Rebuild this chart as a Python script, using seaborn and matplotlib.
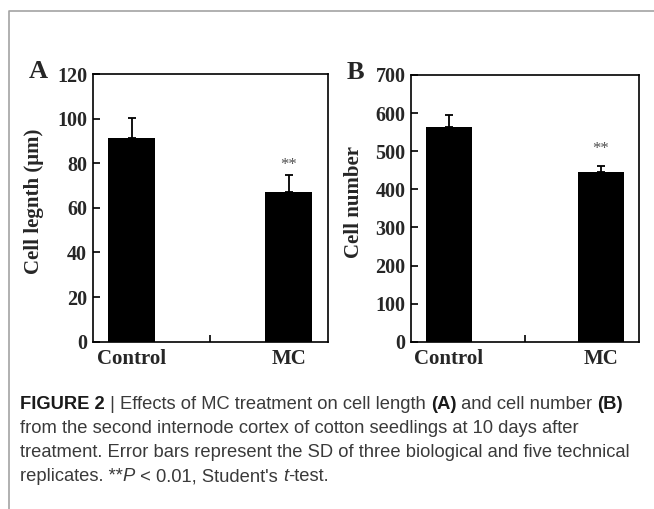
import matplotlib
matplotlib.use("Agg")
import matplotlib.pyplot as plt
import seaborn as sns
import numpy as np
from matplotlib.lines import Line2D

# ---------------- data ----------------
groups = ["Control", "MC"]
length_mean = [91.4, 67.2]
length_sd = [9.0, 7.5]
number_mean = [564, 446]
number_sd = [31, 16]
sig_marks = ["", "**"]
length_ticks = [0, 20, 40, 60, 80, 100, 120]
number_ticks = [0, 100, 200, 300, 400, 500, 600, 700]

sns.set_theme(style="white")
plt.rcParams["font.family"] = ["Liberation Serif", "DejaVu Serif"]

W, H = 654, 509
fig = plt.figure(figsize=(W / 100, H / 100), dpi=100)
fig.patch.set_facecolor("white")

serif = ["Liberation Serif", "DejaVu Serif"]
sans = ["Liberation Sans", "DejaVu Sans"]


def px_rect(left, top, right, bottom):
    return [left / W, 1 - bottom / H, (right - left) / W, (bottom - top) / H]


def panel(ax, means, sds, ticks, ylabel, sig_y):
    sns.barplot(x=groups, y=means, color="black", width=0.3, ax=ax,
                edgecolor="black", linewidth=0, saturation=1)
    ax.errorbar([0, 1], means, yerr=[[0, 0], sds], fmt="none", ecolor="black",
                elinewidth=1.3, capsize=2.6, capthick=1.3)
    ax.set_xlim(-0.25, 1.25)
    ax.set_ylim(ticks[0], ticks[-1])
    ax.set_yticks(ticks)
    ax.set_yticklabels([str(t) for t in ticks], fontsize=14.5, fontweight="bold",
                       family=serif)
    ax.set_xticks([0, 1])
    ax.set_xticklabels(groups, fontsize=15, fontweight="bold", family=serif)
    ax.set_xticks([0.5], minor=True)
    ax.tick_params(axis="x", which="major", length=0, pad=5.5)
    ax.tick_params(axis="x", which="minor", direction="in", length=5, width=1.2,
                   color="black", bottom=True)
    ax.tick_params(axis="y", direction="in", length=5, width=1.2, color="black",
                   left=True, pad=4)
    for s in ax.spines.values():
        s.set_visible(True)
        s.set_color("black")
        s.set_linewidth(1.2)
    ax.set_xlabel("")
    ax.set_ylabel(ylabel, fontsize=15, fontweight="bold", family=serif)
    ax.yaxis.set_label_coords(-0.207, 0.525)
    for i, m in enumerate(sig_marks):
        if m:
            ax.text(i, sig_y, m, ha="center", va="center", fontsize=12,
                    color="#505050", family=serif)


axA = fig.add_axes(px_rect(92.7, 74, 328, 341.7))
panel(axA, length_mean, length_sd, length_ticks, "Cell legnth (μm)", 79)
axB = fig.add_axes(px_rect(411, 75, 639, 341.7))
panel(axB, number_mean, number_sd, number_ticks, "Cell number", 505)

fig.text(29 / W, 1 - 78 / H, "A", fontsize=19, fontweight="bold", family=serif,
         ha="left", va="baseline")
fig.text(347 / W, 1 - 79 / H, "B", fontsize=19, fontweight="bold", family=serif,
         ha="left", va="baseline")

# gray border
fig.add_artist(Line2D([9 / W, 9 / W, 1.0], [0.0, 1 - 11 / H, 1 - 11 / H],
                      transform=fig.transFigure, color="#a3a3a3", linewidth=1.2))

# ---------------- caption ----------------
cap_lines = [
    [("FIGURE 2", "bold", "normal", "#1a1a1a"), (" | Effects of MC treatment on cell length ", "normal", "normal", "#3a3a3a"),
     ("(A)", "bold", "normal", "#1a1a1a"), (" and cell number ", "normal", "normal", "#3a3a3a"), ("(B)", "bold", "normal", "#1a1a1a")],
    [("from the second internode cortex of cotton seedlings at 10 days after", "normal", "normal", "#3a3a3a")],
    [("treatment. Error bars represent the SD of three biological and five technical", "normal", "normal", "#3a3a3a")],
    [("replicates. **", "normal", "normal", "#3a3a3a"), ("P", "normal", "italic", "#3a3a3a"),
     (" < 0.01, Student's ", "normal", "normal", "#3a3a3a"), ("t", "normal", "italic", "#3a3a3a"),
     ("-test.", "normal", "normal", "#3a3a3a")],
]
baselines = [409, 433, 457, 481]

renderer = fig.canvas.get_renderer()


def seg_width(s, weight, style, size):
    def w(txt):
        t = fig.text(0, 0, txt, fontsize=size, fontweight=weight, fontstyle=style,
                     family=sans)
        ww = t.get_window_extent(renderer).width
        t.remove()
        return ww
    return w("x" + s + "x") - w("xx")


# fit widest line (line 3) to target width
ref_size = 10.0
w3 = sum(seg_width(s, wt, st, ref_size) for s, wt, st, c in cap_lines[2])
cap_size = ref_size * 612 / w3

for line, yb in zip(cap_lines, baselines):
    x = 20.0
    for s, wt, st, c in line:
        fig.text(x / W, 1 - yb / H, s, fontsize=cap_size, fontweight=wt, fontstyle=st,
                 family=sans, color=c, ha="left", va="baseline")
        x += seg_width(s, wt, st, cap_size)

fig.savefig("out.png", dpi=100, facecolor="white")
